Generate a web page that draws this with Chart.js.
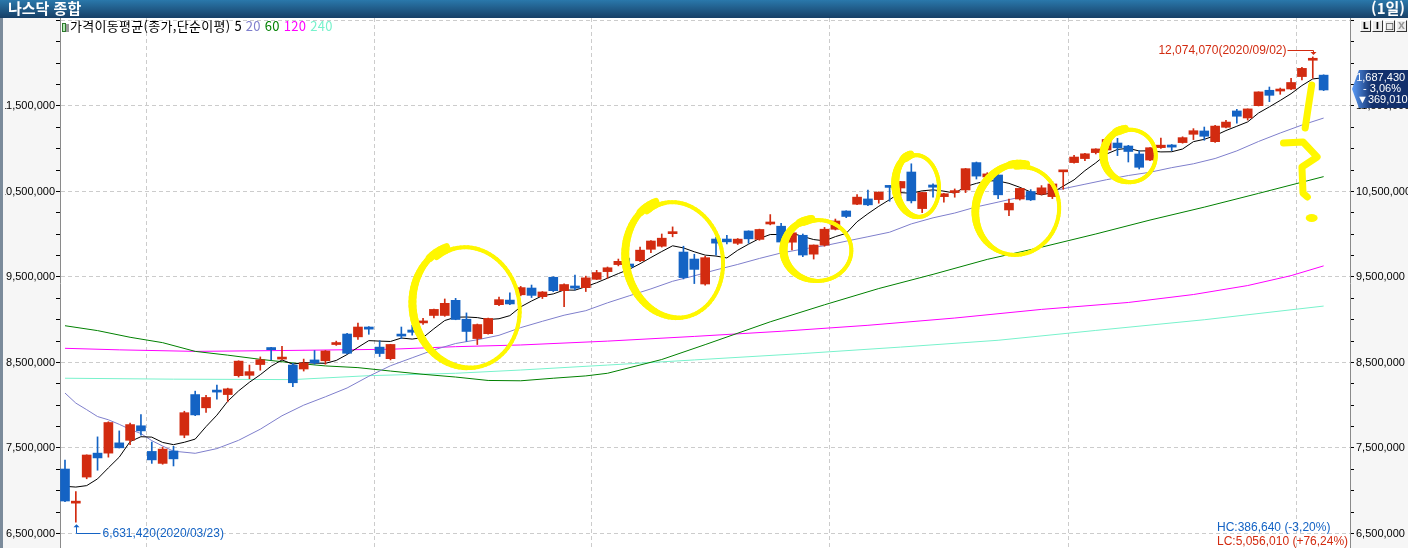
<!DOCTYPE html>
<html lang="ko">
<head>
<meta charset="utf-8">
<title>나스닥 종합</title>
<script src="https://cdn.jsdelivr.net/npm/chart.js@4.4.1/dist/chart.umd.min.js"></script>
<style>
  html, body { margin: 0; padding: 0; }
  body { width: 1408px; height: 548px; position: relative; overflow: hidden; background: #fff; }
  #titlebar { position: absolute; left: 0; top: 0; width: 1408px; height: 18px; z-index: 5;
    background: linear-gradient(#2a78ab, #173f66); color: #fff;
    font: bold 15px 'Noto Sans CJK KR', sans-serif; line-height: 18px; }
  #titlebar .name { position: absolute; left: 8px; top: -1px; }
  #titlebar .period { position: absolute; right: 3px; top: -1px; }
  .panel { position: absolute; top: 18px; height: 530px; background: #f6f6f6; }
  #leftPanel { left: 0; width: 60px; }
  #rightPanel { left: 1350px; width: 58px; }
  #leftEdge { position: absolute; left: 0; top: 18px; width: 3px; height: 530px; background: #7b8b9b; z-index: 4; }
  #chartBox { position: absolute; left: 5px; top: 18px; width: 1403px; height: 530px; }
  #legend { position: absolute; left: 62px; top: 18px; font: 13px 'Noto Sans CJK KR', sans-serif;
    letter-spacing: 0.3px; line-height: 15px; white-space: nowrap; color: #000; }
  #legend .ico { display: inline-block; width: 2px; height: 7px; border: 1px solid #2d7a2d; background: #b5e6b5; vertical-align: -1px; }
  #legend .ico2 { display: inline-block; width: 3px; height: 8px; background: #9a9a9a; margin-right: 1px; vertical-align: -1px; }
  #btns { position: absolute; left: 1360px; top: 20px; z-index: 3; }
  #btns span { float: left; width: 9px; height: 10px; margin-right: 1px; background: #ececec;
    border: 1px solid; border-color: #fff #333 #333 #fff; font: bold 9px 'DejaVu Sans', sans-serif;
    line-height: 10px; text-align: center; color: #000; }
  #btns span.off { color: #999; }
</style>
</head>
<body>
<div id="titlebar"><span class="name">나스닥 종합</span><span class="period">(1일)</span></div>
<div class="panel" id="leftPanel"></div>
<div class="panel" id="rightPanel"></div>
<div id="leftEdge"></div>
<div id="chartBox"><canvas id="priceChart" width="1403" height="530"></canvas></div>
<div id="legend"></div>
<div id="btns"><span>L</span><span>I</span><span>□</span><span class="off">X</span></div>
<script>
// values are kept in index points, the axis shows them x1000
const UNIT = 1000;

const dates = [
  '03/20','03/23','03/24','03/25','03/26','03/27','03/30','03/31',
  '04/01','04/02','04/03','04/06','04/07','04/08','04/09','04/13','04/14','04/15','04/16','04/17','04/20','04/21','04/22','04/23','04/24','04/27','04/28','04/29','04/30',
  '05/01','05/04','05/05','05/06','05/07','05/08','05/11','05/12','05/13','05/14','05/15','05/18','05/19','05/20','05/21','05/22','05/26','05/27','05/28','05/29',
  '06/01','06/02','06/03','06/04','06/05','06/08','06/09','06/10','06/11','06/12','06/15','06/16','06/17','06/18','06/19','06/22','06/23','06/24','06/25','06/26','06/29','06/30',
  '07/01','07/02','07/06','07/07','07/08','07/09','07/10','07/13','07/14','07/15','07/16','07/17','07/20','07/21','07/22','07/23','07/24','07/27','07/28','07/29','07/30','07/31',
  '08/03','08/04','08/05','08/06','08/07','08/10','08/11','08/12','08/13','08/14','08/17','08/18','08/19','08/20','08/21','08/24','08/25','08/26','08/27','08/28','08/31',
  '09/01','09/02','09/03'
];

const opens = [
  7254, 6855, 7160, 7440, 7440, 7560, 7590, 7760,
  7460, 7320, 7465, 7650, 8125, 7970, 8170, 8125, 8346, 8350, 8476, 8675, 8540, 8470, 8424, 8530, 8520, 8710, 8833, 8800, 8915,
  8680, 8545, 8812, 8880, 8963, 9050, 9050, 9227, 9006, 8780, 8837, 9176, 9230, 9292, 9371, 9270, 9497, 9340, 9395, 9375,
  9473, 9563, 9645, 9652, 9690, 9824, 9860, 10007, 9792, 9710, 9418, 9944, 9944, 9894, 10038, 9940, 10120, 10094, 9907, 9988, 9767, 9872,
  10058, 10272, 10351, 10413, 10405, 10564, 10541, 10728, 10300, 10576, 10440, 10487, 10518, 10838, 10670, 10693, 10284, 10412, 10500, 10468, 10440, 10730,
  10838, 10885, 10955, 10985, 11067, 11032, 10939, 10868, 11013, 11044, 11072, 11169, 11208, 11083, 11251, 11442, 11360, 11504, 11684, 11675, 11699,
  11844, 12035, 11861
];
const highs = [
  7360, 6990, 7420, 7630, 7807, 7700, 7790, 7890,
  7570, 7510, 7520, 7930, 8165, 8115, 8237, 8200, 8520, 8470, 8565, 8678, 8690, 8490, 8540, 8640, 8640, 8750, 8840, 8960, 8920,
  8756, 8713, 8915, 8935, 9018, 9126, 9243, 9250, 9080, 8950, 9020, 9266, 9316, 9390, 9406, 9330, 9504, 9420, 9523, 9510,
  9578, 9617, 9710, 9720, 9851, 9925, 10003, 10086, 9860, 9766, 9742, 9964, 9988, 9950, 10040, 10060, 10230, 10128, 10020, 10003, 9875, 10080,
  10178, 10275, 10464, 10518, 10495, 10570, 10618, 10824, 10490, 10590, 10480, 10530, 10770, 10845, 10720, 10733, 10412, 10540, 10522, 10569, 10616, 10748,
  10924, 10945, 11000, 11110, 11122, 11040, 10978, 11015, 11126, 11050, 11140, 11235, 11254, 11275, 11333, 11461, 11466, 11666, 11722, 11710, 11825,
  11953, 12074.07, 11865
];
const lows = [
  6873, 6631.42, 7140, 7240, 7393, 7500, 7540, 7650,
  7320, 7310, 7290, 7620, 7878, 7915, 8070, 8040, 8330, 8310, 8410, 8530, 8535, 8218, 8400, 8480, 8480, 8700, 8600, 8770, 8830,
  8570, 8530, 8780, 8820, 8944, 9020, 9040, 9000, 8748, 8710, 8830, 9166, 9176, 9280, 9260, 9248, 9329, 9154, 9350, 9330,
  9470, 9485, 9630, 9563, 9680, 9785, 9850, 9970, 9477, 9423, 9403, 9754, 9886, 9880, 9894, 9930, 10110, 9848, 9816, 9738, 9710, 9860,
  10050, 10194, 10345, 10335, 10363, 10386, 10452, 10366, 10253, 10433, 10374, 10433, 10487, 10646, 10650, 10417, 10217, 10400, 10394, 10460, 10417, 10526,
  10830, 10860, 10939, 10980, 10920, 10845, 10763, 10860, 11005, 10978, 11065, 11107, 11099, 11075, 11245, 11298, 11336, 11500, 11551, 11637, 11690,
  11804, 11825, 11680
];
const closes = [
  6880, 6861, 7418, 7384, 7798, 7502, 7774, 7700,
  7361, 7487, 7373, 7913, 7887, 8091, 8154, 8192, 8516, 8393, 8532, 8650, 8561, 8263, 8495, 8495, 8635, 8730, 8608, 8915, 8890,
  8605, 8711, 8809, 8854, 8980, 9121, 9192, 9003, 8863, 8944, 9015, 9235, 9185, 9376, 9285, 9325, 9340, 9412, 9369, 9490,
  9552, 9608, 9683, 9616, 9814, 9921, 9954, 10020, 9493, 9589, 9726, 9896, 9911, 9943, 9946, 10056, 10131, 9909, 10017, 9757, 9874, 10059,
  10155, 10208, 10434, 10344, 10493, 10548, 10617, 10391, 10489, 10550, 10474, 10503, 10767, 10680, 10706, 10461, 10363, 10536, 10402, 10543, 10588, 10745,
  10903, 10941, 10998, 11108, 11011, 10968, 10783, 11012, 11042, 11019, 11130, 11211, 11146, 11265, 11312, 11380, 11466, 11665, 11625, 11690, 11775,
  11940, 12056.44, 11687.43
];

// moving averages
const ma5 = [
  7052, 7043, 7060, 7139, 7268, 7393, 7575, 7632, 7627, 7565,
  7539, 7567, 7604, 7750, 7884, 8047, 8168, 8269, 8357, 8457,
  8530, 8480, 8500, 8493, 8490, 8524, 8593, 8677, 8756, 8750,
  8746, 8786, 8774, 8792, 8895, 8991, 9030, 9032, 9025, 9003,
  9012, 9048, 9151, 9219, 9281, 9302, 9348, 9346, 9387, 9433,
  9486, 9540, 9590, 9655, 9728, 9798, 9865, 9840, 9795, 9756,
  9745, 9723, 9813, 9884, 9950, 9997, 9997, 10012, 9974, 9938,
  9923, 9972, 10011, 10146, 10240, 10327, 10405, 10487, 10479, 10508,
  10519, 10504, 10481, 10557, 10595, 10626, 10623, 10595, 10549, 10494,
  10461, 10486, 10563, 10636, 10744, 10835, 10939, 10992, 11005, 10974,
  10976, 10963, 10965, 10997, 11083, 11110, 11154, 11213, 11263, 11314,
  11418, 11490, 11565, 11644, 11739, 11817, 11830
];
// [day, value]
const ma20 = [[0,8143],[1,8025],[2,7948],[3,7868],[4,7830],[5,7777],[6,7718],[7,7669],[8,7586],[9,7523],[10,7463],
  [12,7438],[14,7493],[16,7590],[18,7720],[20,7877],[22,8001],[24,8099],[26,8202],[28,8339],[30,8462],[32,8555],
  [34,8648],[36,8722],[38,8766],[40,8818],[42,8908],[44,8982],[46,9053],[48,9106],[50,9198],[52,9280],[54,9361],
  [56,9450],[58,9514],[60,9583],[62,9647],[64,9717],[66,9781],[68,9827],[70,9866],[72,9919],[74,9971],[76,10024],
  [78,10121],[80,10192],[82,10248],[84,10320],[86,10376],[88,10433],[90,10483],[92,10532],[94,10585],[96,10638],
  [98,10687],[100,10725],[102,10779],[104,10824],[106,10886],[108,10975],[110,11085],[112,11184],[114,11277],[116,11359]];
const ma60 = [[0,8930],[3,8873],[6,8795],[9,8732],[12,8630],[15,8586],[18,8537],[21,8495],[24,8460],[27,8440],
  [30,8400],[33,8362],[36,8330],[39,8290],[42,8286],[45,8316],[48,8343],[50,8374],[55,8535],[59,8709],[65,8976],
  [70,9175],[75,9365],[80,9531],[85,9706],[90,9849],[95,10003],[100,10166],[105,10317],[110,10478],[116,10674]];
const ma120 = [[0,8666],[5,8648],[12,8630],[20,8640],[30,8655],[36,8685],[42,8705],[50,8750],[58,8805],[66,8865],
  [74,8935],[82,9020],[90,9121],[98,9202],[104,9295],[109,9400],[113,9516],[116,9630]];
const ma240 = [[0,8316],[10,8305],[21,8300],[28,8346],[36,8374],[42,8412],[50,8470],[58,8530],[68,8605],
  [77,8680],[86,8760],[95,8875],[105,9000],[116,9160]];

const maPeriods = [5, 20, 60, 120, 240];
const maColors = ['#000000', '#7f7fcc', '#008000', '#ff00ff', '#78f2cc'];

// axis ticks
const yTickFirst = 6500, yTickLast = 12500, yMinorStep = 250, yMajorStep = 1000, yLabelLast = 11500;
const yMin = 6330.4, yMax = 12529.2;
const xMin = -0.46, xMax = 118.43;

// hand drawn yellow loops: [centre day, centre value, half width (days), half height (points), tilt deg]
const loops = [
  [37.05, 9155, 5.07, 743, -10],
  [56.22, 9711, 4.61, 713, -10],
  [69.4, 9816, 3.23, 374, 0],
  [78.57, 10570, 2.07, 380, -5],
  [87.83, 10284, 3.96, 550, 20],
  [98.16, 10921, 2.49, 322, 0]
];
const qStrokes = [
  [[114.9, 11746], [114.6, 11500], [114.3, 11243]],
  [[112.3, 11067], [114.1, 11079], [115.4, 10904], [114.0, 10787], [114.1, 10482], [114.5, 10436]]
];
const qDot = [114.9, 10190];

const UP = '#d22b10', DOWN = '#1463c4', YELLOW = '#fff700';

const monthStarts = dates.map((d, i) => i).filter(i => i > 0 && dates[i].slice(0, 2) !== dates[i - 1].slice(0, 2));
const yTicks = [];
for (let v = yTickFirst; v <= yTickLast; v += yMinorStep) yTicks.push({ value: v });
const isMajor = v => (v - yTickFirst) % yMajorStep === 0;
const fmt = v => Math.round(v * UNIT).toLocaleString('en-US');
const pct = (a, b) => (a / b * 100).toFixed(2).replace('.', ',');
const tickLabel = v => (isMajor(v) && v <= yLabelLast) ? fmt(v) : '';

const last = closes[closes.length - 1], prev = closes[closes.length - 2];
const hiIdx = highs.indexOf(Math.max(...highs));
const loIdx = lows.indexOf(Math.min(...lows));

document.getElementById('legend').innerHTML =
  '<span class="ico"></span><span class="ico2"></span>가격이동평균(종가,단순이평) ' +
  maPeriods.map((p, i) => '<span style="color:' + maColors[i] + '">' + p + '</span>').join(' ');

const handMarks = {
  id: 'handMarks',
  afterDatasetsDraw(chart) {
    const ctx = chart.ctx, xs = chart.scales.x, ys = chart.scales.y;
    ctx.save();
    ctx.strokeStyle = YELLOW; ctx.fillStyle = YELLOW;
    ctx.lineCap = 'round'; ctx.lineJoin = 'round';
    loops.forEach(([cd, cv, hd, hv, tilt], li) => {
      const cx = xs.getPixelForValue(cd), cy = ys.getPixelForValue(cv);
      const rx = xs.getPixelForValue(cd + hd) - cx, ry = cy - ys.getPixelForValue(cv + hv);
      const rot = tilt * Math.PI / 180, n = 90;
      let px = null, py = null;
      for (let k = 0; k <= n; k++) {
        const t = -1.75 - k / n * 2 * Math.PI * 1.04;
        const s = 1 - 0.07 * k / n;
        const ex = rx * s * Math.cos(t), ey = ry * s * Math.sin(t);
        const X = cx + ex * Math.cos(rot) - ey * Math.sin(rot);
        const Y = cy + ex * Math.sin(rot) + ey * Math.cos(rot);
        if (px !== null) {
          // pen pressure: heavier on the left half of the loop
          ctx.lineWidth = 4 + 4 * Math.max(0, -Math.cos(t)) + (k < 6 ? 2 : 0);
          ctx.beginPath(); ctx.moveTo(px, py); ctx.lineTo(X, Y); ctx.stroke();
        }
        px = X; py = Y;
      }
    });
    ctx.lineWidth = 7;
    qStrokes.forEach(pts => {
      ctx.beginPath();
      pts.forEach(([d, v], k) => {
        const X = xs.getPixelForValue(d), Y = ys.getPixelForValue(v);
        if (k === 0) ctx.moveTo(X, Y); else ctx.lineTo(X, Y);
      });
      ctx.stroke();
    });
    ctx.beginPath();
    ctx.ellipse(xs.getPixelForValue(qDot[0]), ys.getPixelForValue(qDot[1]), 6, 4, 0, 0, 2 * Math.PI);
    ctx.fill();
    ctx.restore();
  },
  afterDraw(chart) {
    const ctx = chart.ctx, xs = chart.scales.x, ys = chart.scales.y, area = chart.chartArea;
    ctx.save();
    ctx.font = '12px "Liberation Sans", Arial, sans-serif';
    ctx.textBaseline = 'middle';
    ctx.lineWidth = 1;

    // highest high
    const hx = Math.round(xs.getPixelForValue(hiIdx)) + 0.5, hy = ys.getPixelForValue(highs[hiIdx]);
    const hl = Math.round(hy - 7) + 0.5;
    ctx.strokeStyle = ctx.fillStyle = '#d22b10';
    ctx.beginPath(); ctx.moveTo(hx - 26, hl); ctx.lineTo(hx, hl); ctx.lineTo(hx, hy - 4); ctx.stroke();
    ctx.beginPath(); ctx.moveTo(hx - 3, hy - 5); ctx.lineTo(hx + 3, hy - 5); ctx.lineTo(hx, hy - 2); ctx.closePath(); ctx.fill();
    ctx.textAlign = 'right';
    ctx.fillText(fmt(highs[hiIdx]) + '(2020/' + dates[hiIdx] + ')', hx - 27, hl);

    // lowest low
    const lx = Math.round(xs.getPixelForValue(loIdx)) + 0.5, lyv = ys.getPixelForValue(lows[loIdx]);
    const ll = Math.round(lyv + 11) + 0.5;
    ctx.strokeStyle = ctx.fillStyle = '#1463c4';
    ctx.beginPath(); ctx.moveTo(lx, lyv + 4); ctx.lineTo(lx, ll); ctx.lineTo(lx + 24, ll); ctx.stroke();
    ctx.beginPath(); ctx.moveTo(lx - 3, lyv + 5); ctx.lineTo(lx + 3, lyv + 5); ctx.lineTo(lx, lyv + 2); ctx.closePath(); ctx.fill();
    ctx.textAlign = 'left';
    ctx.fillText(fmt(lows[loIdx]) + '(2020/' + dates[loIdx] + ')', lx + 26, ll);

    // distance from high / low
    const hc = highs[hiIdx] - last, lc = last - lows[loIdx];
    ctx.fillStyle = '#1463c4';
    ctx.fillText('HC:' + fmt(hc) + ' (-' + pct(hc, highs[hiIdx]) + '%)', area.right - 133, area.bottom - 20);
    ctx.fillStyle = '#d22b10';
    ctx.fillText('LC:' + fmt(lc) + ' (+' + pct(lc, lows[loIdx]) + '%)', area.right - 133, area.bottom - 6.5);

    // current price tag on the right axis
    const xr = area.right, W = chart.width, ty = ys.getPixelForValue(last);
    const g = ctx.createLinearGradient(xr + 2, 0, xr + 22, 0);
    g.addColorStop(0, '#5a9cf8'); g.addColorStop(1, '#12306c');
    ctx.fillStyle = g;
    ctx.beginPath();
    ctx.moveTo(xr + 2, ty - 1); ctx.lineTo(xr + 9, ty - 20); ctx.lineTo(W, ty - 20);
    ctx.lineTo(W, ty + 18); ctx.lineTo(xr + 9, ty + 18); ctx.closePath(); ctx.fill();
    ctx.fillStyle = '#fff';
    ctx.font = '11px "Liberation Sans", Arial, sans-serif';
    ctx.save();
    ctx.beginPath(); ctx.rect(xr + 7, ty - 20, W, 40); ctx.clip();
    const lastTxt = fmt(last);
    ctx.fillText(lastTxt, xr + 7 - ctx.measureText(lastTxt.charAt(0)).width, ty - 12);
    ctx.restore();
    ctx.fillText('- ' + pct(prev - last, prev) + '%', xr + 13, ty - 1);
    ctx.fillText('▼' + fmt(prev - last), xr + 7, ty + 10);
    ctx.restore();
  }
};

const lineSet = (data, color, label) => ({
  type: 'line', label, data, borderColor: color, borderWidth: 1,
  pointRadius: 0, tension: 0, order: 2, yAxisID: 'y'
});
const pairs = arr => arr.map(([d, v]) => ({ x: d, y: v }));

Chart.defaults.font.family = "'Liberation Sans', Arial, sans-serif";

new Chart(document.getElementById('priceChart'), {
  type: 'bar',
  data: {
    datasets: [
      {
        type: 'bar', label: 'body', order: 0, grouped: false, yAxisID: 'y',
        data: dates.map((d, i) => ({ x: i, y: [opens[i], closes[i]] })),
        backgroundColor: dates.map((d, i) => closes[i] >= opens[i] ? UP : DOWN),
        barThickness: 9, minBarLength: 2, borderWidth: 0
      },
      {
        type: 'bar', label: 'wick', order: 1, grouped: false, yAxisID: 'y',
        data: dates.map((d, i) => ({ x: i, y: [lows[i], highs[i]] })),
        backgroundColor: dates.map((d, i) => closes[i] >= opens[i] ? UP : DOWN),
        barThickness: 1, borderWidth: 0
      },
      lineSet(ma5.map((v, i) => ({ x: i, y: v })), maColors[0], 'MA5'),
      lineSet(pairs(ma20), maColors[1], 'MA20'),
      lineSet(pairs(ma60), maColors[2], 'MA60'),
      lineSet(pairs(ma120), maColors[3], 'MA120'),
      lineSet(pairs(ma240), maColors[4], 'MA240')
    ]
  },
  options: {
    responsive: false,
    animation: false,
    events: [],
    layout: { padding: 0 },
    plugins: { legend: { display: false }, tooltip: { enabled: false } },
    scales: {
      x: {
        type: 'linear', min: xMin, max: xMax, offset: false,
        afterBuildTicks: s => { s.ticks = monthStarts.map(i => ({ value: i - 0.5 })); },
        ticks: { display: false },
        grid: { color: '#cccccc', drawTicks: false, offset: false, lineWidth: 1 },
        border: { display: false, dash: [4, 3] },
        afterFit: s => { s.height = 0; }
      },
      y: {
        type: 'linear', position: 'left', min: yMin, max: yMax,
        afterBuildTicks: s => { s.ticks = yTicks.map(t => ({ value: t.value })); },
        ticks: { callback: tickLabel, color: '#000', padding: 1, autoSkip: false, font: { size: 11 } },
        grid: {
          color: c => isMajor(c.tick.value) ? '#cccccc' : 'rgba(0,0,0,0)',
          tickColor: '#000', tickLength: 4, lineWidth: 1
        },
        border: { color: '#8a8a8a', width: 1, dash: [4, 3] },
        afterFit: s => { s.width = 55; s.paddingTop = 0; s.paddingBottom = 0; }
      },
      y2: {
        type: 'linear', position: 'right', min: yMin, max: yMax,
        afterBuildTicks: s => { s.ticks = yTicks.map(t => ({ value: t.value })); },
        ticks: { callback: tickLabel, color: '#000', padding: 2, autoSkip: false, font: { size: 11 } },
        grid: { drawOnChartArea: false, color: 'rgba(0,0,0,0)', tickColor: '#000', tickLength: 4 },
        border: { color: '#8a8a8a', width: 1 },
        afterFit: s => { s.width = 58; s.paddingTop = 0; s.paddingBottom = 0; }
      }
    }
  },
  plugins: [handMarks]
});
</script>
</body>
</html>
